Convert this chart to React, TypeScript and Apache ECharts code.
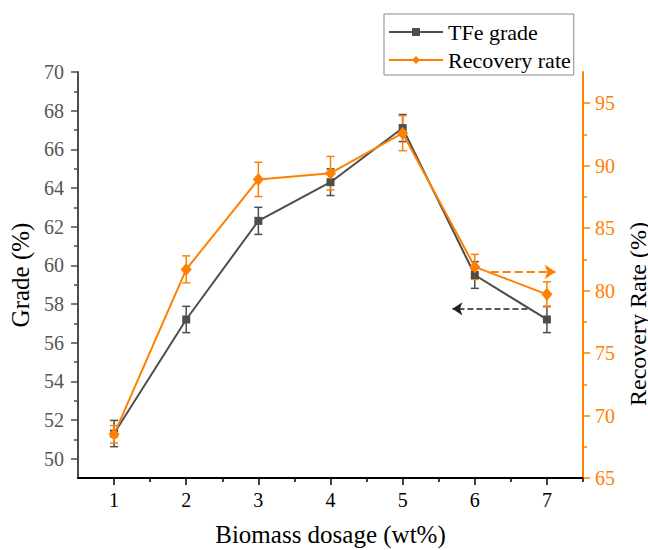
import React, { useEffect, useRef } from "react";
import * as echarts from "echarts";

const dosage = [1, 2, 3, 4, 5, 6, 7];
const grade = [51.3, 57.2, 62.3, 64.3, 67.1, 59.5, 57.2];
const gradeErr = [0.68, 0.68, 0.7, 0.69, 0.7, 0.69, 0.68];
const recovery = [68.5, 81.7, 88.9, 89.4, 92.6, 81.9, 79.7];
const recoveryErr = [0.7, 1.08, 1.37, 1.34, 1.4, 1.0, 1.0];

const xMajor = [1, 2, 3, 4, 5, 6, 7];
const xMinor = [1.5, 2.5, 3.5, 4.5, 5.5, 6.5, 7.5];
const gradeMajor = [50, 52, 54, 56, 58, 60, 62, 64, 66, 68, 70];
const gradeMinor = [51, 53, 55, 57, 59, 61, 63, 65, 67, 69];
const recMajor = [65, 70, 75, 80, 85, 90, 95];
const recMinor = [67.5, 72.5, 77.5, 82.5, 87.5, 92.5];

// annotation arrows, in data coordinates [x, y]
const gradeArrow = [[6.73, 57.75], [5.69, 57.75]];
const recArrow = [[6.22, 81.5], [7.12, 81.5]];

const GRAY = "#4d4d4d";
const ORANGE = "#ff8000";
const FONT = "Times New Roman, Liberation Serif, DejaVu Serif, serif";

function errSeries(name: string, ys: number[], errs: number[], color: string, yIdx: number) {
  return {
    type: "custom",
    name: name + " err",
    xAxisIndex: 0,
    yAxisIndex: yIdx,
    silent: true,
    data: dosage.map((x, i) => [x, ys[i], errs[i]]),
    encode: { x: 0, y: 1 },
    renderItem: (params: any, api: any) => {
      const x = api.value(0);
      const y = api.value(1);
      const e = api.value(2);
      const top = api.coord([x, y + e]);
      const bot = api.coord([x, y - e]);
      const hw = 4;
      const st = { stroke: color, lineWidth: 1.5 };
      return {
        type: "group",
        children: [
          { type: "line", shape: { x1: top[0], y1: top[1], x2: bot[0], y2: bot[1] }, style: st },
          { type: "line", shape: { x1: top[0] - hw, y1: top[1], x2: top[0] + hw, y2: top[1] }, style: st },
          { type: "line", shape: { x1: bot[0] - hw, y1: bot[1], x2: bot[0] + hw, y2: bot[1] }, style: st },
        ],
      };
    },
  };
}

export default function App() {
  const ref = useRef<HTMLDivElement>(null);
  useEffect(() => {
    if (!ref.current) return;
    const chart = echarts.init(ref.current, null, { renderer: "svg" });
    const minorAxis = (extra: any) => ({
      type: "value",
      axisLine: { show: false },
      axisLabel: { show: false },
      splitLine: { show: false },
      ...extra,
    });
    chart.setOption({
      animation: false,
      textStyle: { fontFamily: FONT },
      grid: { left: 78, right: 65, top: 72, bottom: 72, containLabel: false, outerBoundsMode: "none" },
      legend: {
        data: ["TFe grade", "Recovery rate"],
        orient: "vertical",
        left: 384,
        top: 14,
        padding: [7, 3, 4, 4],
        itemGap: 6,
        itemWidth: 54,
        itemHeight: 10,
        borderColor: "#8a8a8a",
        borderWidth: 1,
        borderRadius: 0,
        textStyle: { fontSize: 22, color: "#000", fontFamily: FONT },
      },
      xAxis: [
        {
          type: "value",
          position: "bottom",
          min: 0.5,
          max: 7.5,
          name: "Biomass dosage (wt%)",
          nameLocation: "middle",
          nameGap: 44,
          nameTextStyle: { fontSize: 25, color: "#000", fontFamily: FONT },
          axisLine: { lineStyle: { color: "#000", width: 2 } },
          axisTick: { customValues: xMajor, length: 7, lineStyle: { color: "#000", width: 1.5 } },
          axisLabel: { customValues: xMajor, fontSize: 20, color: "#000", margin: 12, fontFamily: FONT },
          splitLine: { show: false },
        },
        minorAxis({
          position: "bottom",
          min: 0.5,
          max: 7.5,
          axisTick: { customValues: xMinor, length: 4, lineStyle: { color: "#000", width: 1.5 } },
        }),
      ],
      yAxis: [
        {
          type: "value",
          position: "left",
          min: 49,
          max: 70,
          name: "Grade (%)",
          nameLocation: "middle",
          nameRotate: 90,
          nameGap: 44,
          nameTextStyle: { fontSize: 25, color: "#000", fontFamily: FONT },
          axisLine: { lineStyle: { color: GRAY, width: 2 } },
          axisTick: { customValues: gradeMajor, length: 7, lineStyle: { color: GRAY, width: 1.5 } },
          axisLabel: { customValues: gradeMajor, fontSize: 20, color: "#555", margin: 14, fontFamily: FONT },
          splitLine: { show: false },
        },
        minorAxis({
          position: "left",
          min: 49,
          max: 70,
          axisTick: { customValues: gradeMinor, length: 4, lineStyle: { color: GRAY, width: 1.5 } },
        }),
        {
          type: "value",
          position: "right",
          min: 65,
          max: 97.5,
          name: "Recovery Rate (%)",
          nameLocation: "middle",
          nameRotate: 90,
          nameGap: 31,
          nameTextStyle: { fontSize: 24, color: "#000", fontFamily: FONT, padding: [0, 78, 0, 0] },
          axisLine: { lineStyle: { color: ORANGE, width: 2 } },
          axisTick: { customValues: recMajor, length: 7, lineStyle: { color: ORANGE, width: 1.5 } },
          axisLabel: { customValues: recMajor, fontSize: 20, color: ORANGE, margin: 12, fontFamily: FONT },
          splitLine: { show: false },
        },
        minorAxis({
          position: "right",
          min: 65,
          max: 97.5,
          axisTick: { customValues: recMinor, length: 4, lineStyle: { color: ORANGE, width: 1.5 } },
        }),
      ],
      series: [
        errSeries("TFe grade", grade, gradeErr, GRAY, 0),
        {
          type: "line",
          name: "TFe grade",
          xAxisIndex: 0,
          yAxisIndex: 0,
          data: dosage.map((x, i) => [x, grade[i]]),
          symbol: "rect",
          symbolSize: 8,
          color: GRAY,
          lineStyle: { color: GRAY, width: 2 },
          itemStyle: { color: GRAY },
          markLine: {
            silent: true,
            symbol: ["none", "arrow"],
            symbolSize: 10,
            label: { show: false },
            lineStyle: { color: "#222", type: "dashed", width: 1.5 },
            itemStyle: { color: "#111" },
            data: [[{ coord: gradeArrow[0] }, { coord: gradeArrow[1] }]],
          },
        },
        errSeries("Recovery rate", recovery, recoveryErr, ORANGE, 2),
        {
          type: "line",
          name: "Recovery rate",
          xAxisIndex: 0,
          yAxisIndex: 2,
          data: dosage.map((x, i) => [x, recovery[i]]),
          symbol: "diamond",
          symbolSize: [11, 13],
          color: ORANGE,
          lineStyle: { color: ORANGE, width: 2 },
          itemStyle: { color: ORANGE },
          markLine: {
            silent: true,
            symbol: ["none", "arrow"],
            symbolSize: 11,
            label: { show: false },
            lineStyle: { color: ORANGE, type: "dashed", width: 2 },
            itemStyle: { color: ORANGE },
            data: [[{ coord: recArrow[0] }, { coord: recArrow[1] }]],
          },
        },
      ],
    });
    return () => chart.dispose();
  }, []);
  return (
    <div
      ref={ref}
      style={{ position: "fixed", left: 0, top: 0, width: 648, height: 550, background: "#fff" }}
    />
  );
}
